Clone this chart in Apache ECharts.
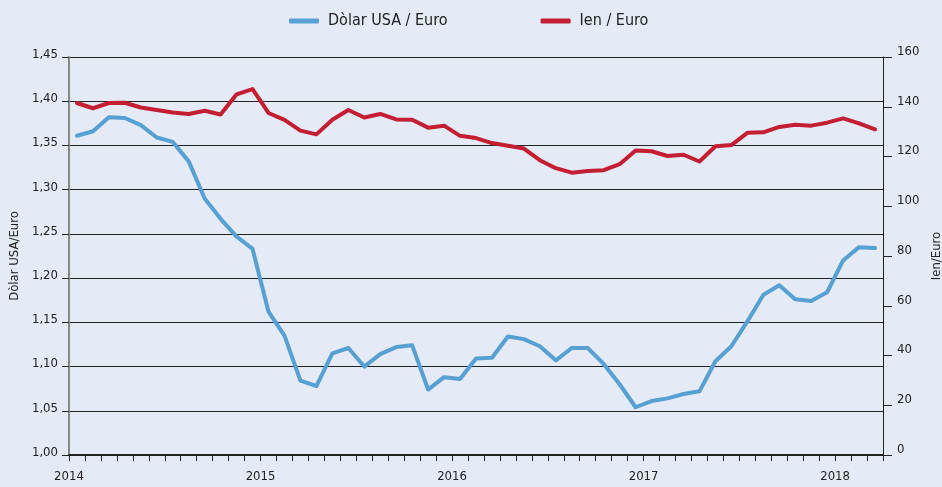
<!DOCTYPE html>
<html>
<head>
<meta charset="utf-8">
<script src="https://cdn.jsdelivr.net/npm/echarts@6/dist/echarts.min.js"></script>
<style>
html,body{margin:0;padding:0;background:#e4eaf6;}
#c{width:942px;height:487px;}
</style>
</head>
<body>
<div id="c"></div>
<script>
// Monthly data, Jan 2014 – Mar 2018
const months = [
 '2014-01','2014-02','2014-03','2014-04','2014-05','2014-06','2014-07','2014-08','2014-09','2014-10','2014-11','2014-12',
 '2015-01','2015-02','2015-03','2015-04','2015-05','2015-06','2015-07','2015-08','2015-09','2015-10','2015-11','2015-12',
 '2016-01','2016-02','2016-03','2016-04','2016-05','2016-06','2016-07','2016-08','2016-09','2016-10','2016-11','2016-12',
 '2017-01','2017-02','2017-03','2017-04','2017-05','2017-06','2017-07','2017-08','2017-09','2017-10','2017-11','2017-12',
 '2018-01','2018-02','2018-03'
];
const usdEur = [
 1.361,1.366,1.382,1.381,1.373,1.359,1.354,1.332,1.290,1.267,1.247,1.233,
 1.162,1.135,1.084,1.078,1.115,1.121,1.100,1.114,1.122,1.124,1.074,1.088,
 1.086,1.109,1.110,1.134,1.131,1.123,1.107,1.121,1.121,1.103,1.080,1.054,
 1.061,1.064,1.069,1.072,1.106,1.123,1.151,1.181,1.192,1.176,1.174,1.184,
 1.220,1.235,1.234
];
const jpyEur = [
 141.5,139.4,141.5,141.6,139.7,138.7,137.7,137.1,138.4,136.9,145.0,147.1,
 137.5,134.7,130.4,128.9,134.8,138.7,135.7,137.1,134.9,134.8,131.6,132.4,
 128.3,127.4,125.4,124.3,123.2,118.5,115.3,113.5,114.2,114.5,116.9,122.4,
 122.1,120.2,120.7,118.0,124.1,124.6,129.5,129.7,131.9,132.8,132.4,133.6,
 135.3,133.3,130.9
];
const yearLabels = ['2014','2015','2016','2017','2018'];
const seriesNames = ['Dòlar USA / Euro','Ien / Euro'];
const leftAxisName = 'Dòlar USA/Euro';
const rightAxisName = 'Ien/Euro';

const FONT = "'DejaVu Sans Condensed','Liberation Sans Narrow',sans-serif";
const TXT = '#222';

const chart = echarts.init(document.getElementById('c'));
chart.setOption({
  backgroundColor: '#e4eaf6',
  animation: false,
  textStyle: {fontFamily: FONT},
  legend: {
    left: 289, top: 13, padding: 0,
    itemGap: 93,
    itemWidth: 30, itemHeight: 5,
    icon: 'roundRect',
    textStyle: {fontFamily: FONT, fontSize: 16, color: TXT, padding: [0,0,0,4]},
    data: seriesNames
  },
  grid: {left: 69, right: 59, top: 57, bottom: 32, containLabel: false, outerBoundsMode: 'none'},
  xAxis: {
    type: 'value', min: 0, max: months.length, interval: 1,
    axisLine: {show: true, onZero: false, lineStyle: {color: '#222', width: 2}},
    axisTick: {show: true, length: 6, lineStyle: {color: '#222', width: 1}},
    splitLine: {show: false},
    axisLabel: {
      fontFamily: FONT, fontSize: 13, color: TXT, margin: 15,
      showMinLabel: true, showMaxLabel: true,
      formatter: v => (v % 12 === 0 && yearLabels[v/12]) ? yearLabels[v/12] : ''
    }
  },
  yAxis: [{
    type: 'value', min: 1.0, max: 1.45, interval: 0.05, position: 'left',
    name: leftAxisName, nameLocation: 'middle', nameGap: 44, nameRotate: 90,
    nameTextStyle: {fontFamily: FONT, fontSize: 13, color: TXT},
    axisLine: {show: true, lineStyle: {color: '#888', width: 2}},
    axisTick: {show: true, length: 7, lineStyle: {color: '#222'}},
    splitLine: {show: true, lineStyle: {color: '#222', width: 1}},
    axisLabel: {fontFamily: FONT, fontSize: 13, color: TXT, margin: 11,
      verticalAlign: 'bottom', lineHeight: 5,
      formatter: v => v.toFixed(2).replace('.', ',')}
  },{
    type: 'value', min: 0, max: 160, interval: 20, position: 'right',
    name: rightAxisName, nameLocation: 'middle', nameGap: 41, nameRotate: 90,
    nameTextStyle: {fontFamily: FONT, fontSize: 13, color: TXT},
    axisLine: {show: true, lineStyle: {color: '#222', width: 1}},
    axisTick: {show: true, length: 9, lineStyle: {color: '#222'}},
    splitLine: {show: false},
    axisLabel: {fontFamily: FONT, fontSize: 13, color: TXT, margin: 14,
      verticalAlign: 'bottom', lineHeight: 11}
  }],
  series: [{
    name: seriesNames[0], type: 'line', yAxisIndex: 0,
    symbol: 'none', smooth: false,
    itemStyle: {color: '#56a0d3'},
    lineStyle: {color: '#56a0d3', width: 4, join: 'round', cap: 'round'},
    data: usdEur.map((v, i) => [i + 0.5, v])
  },{
    name: seriesNames[1], type: 'line', yAxisIndex: 1,
    symbol: 'none', smooth: false,
    itemStyle: {color: '#c41e32'},
    lineStyle: {color: '#c41e32', width: 4, join: 'round', cap: 'round'},
    data: jpyEur.map((v, i) => [i + 0.5, v])
  }]
});
</script>
</body>
</html>
